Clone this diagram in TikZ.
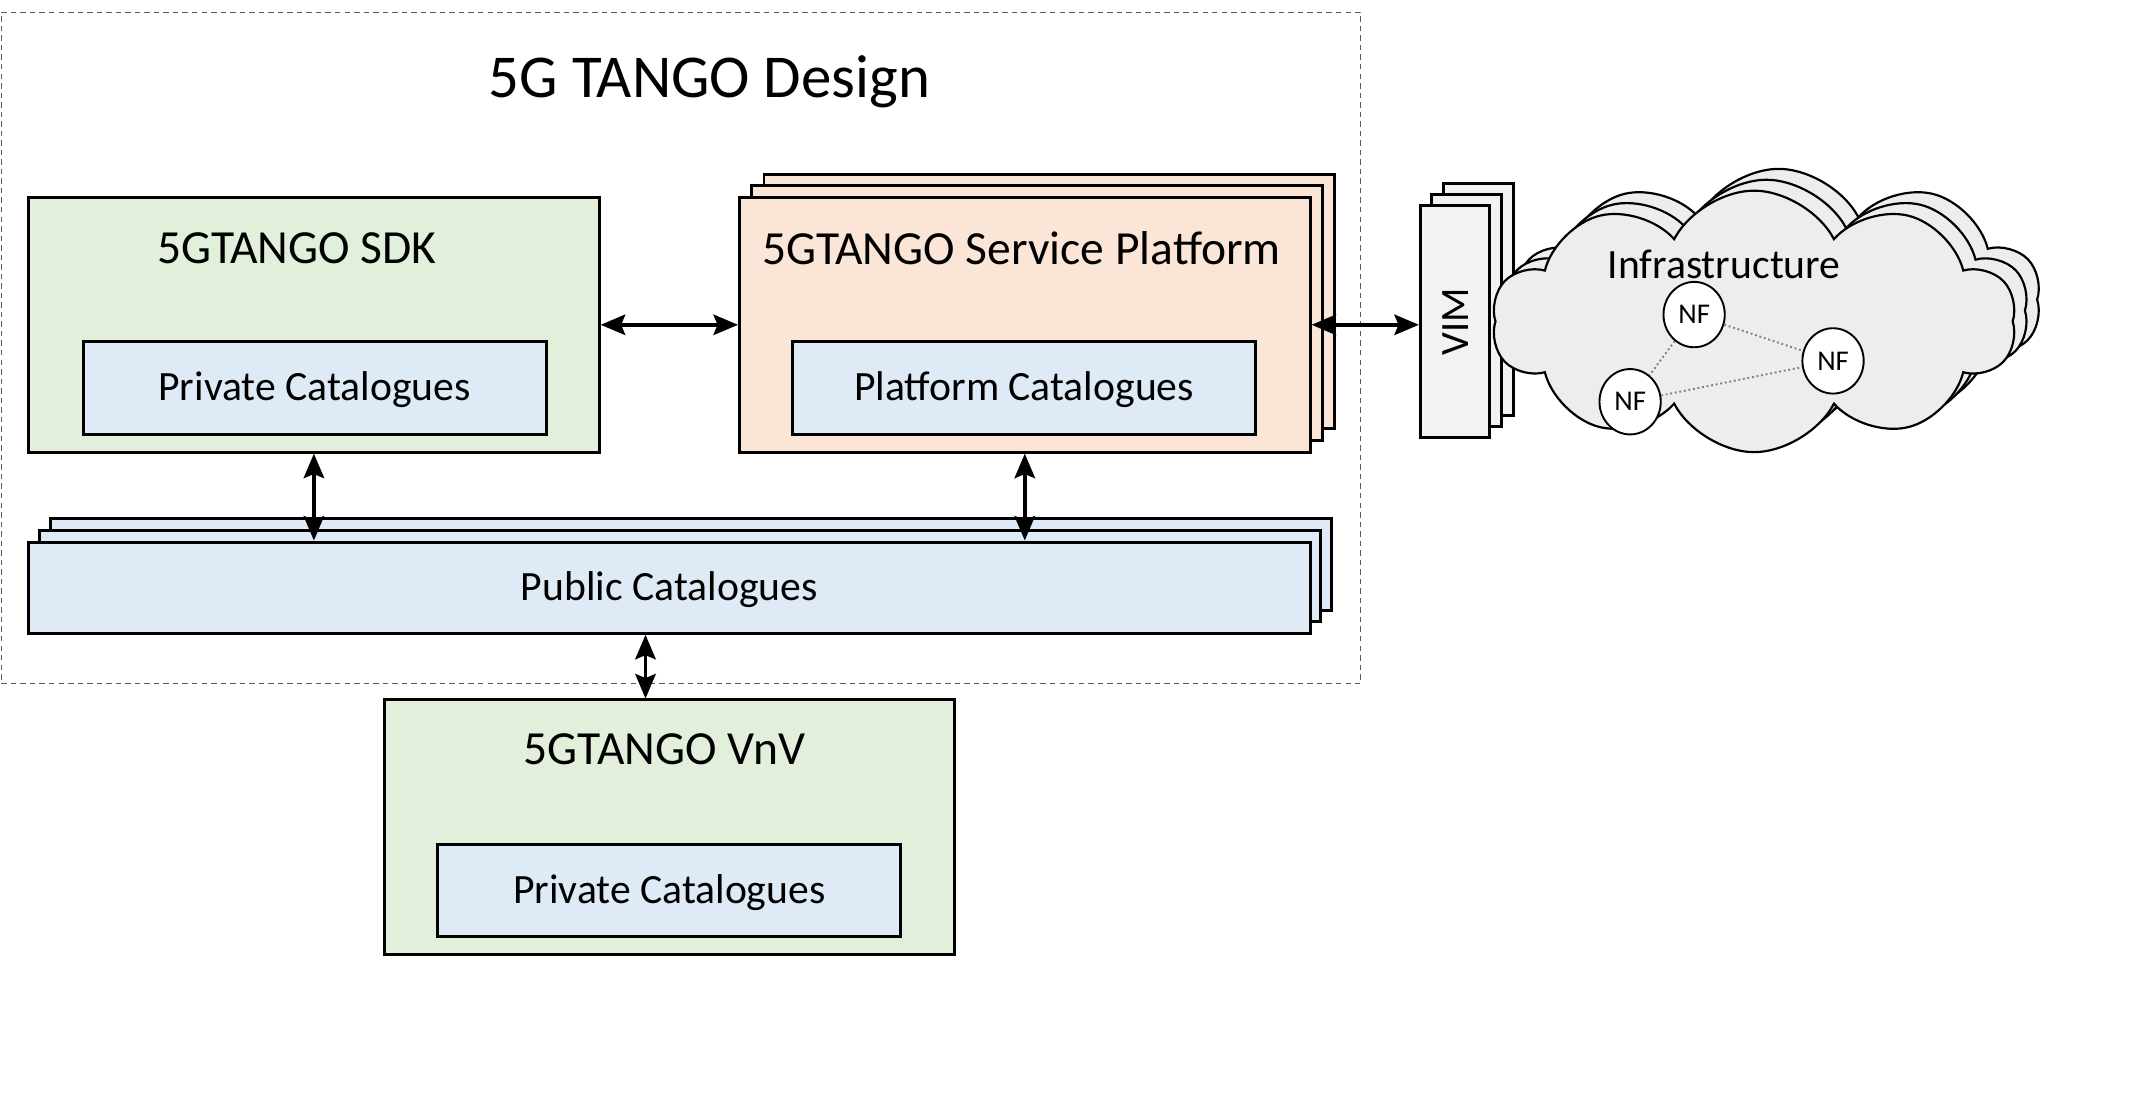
\documentclass[tikz,border=0pt]{standalone}
\usepackage{fontspec}
\setmainfont{Carlito}
\usetikzlibrary{arrows.meta,shapes.symbols,shapes.geometric}
\definecolor{cgreen}{HTML}{E2EFDA}
\definecolor{cpeach}{HTML}{FBE5D6}
\definecolor{cblue}{HTML}{DEEBF7}
\definecolor{cvim}{HTML}{F2F2F2}
\definecolor{ccloud}{HTML}{EDEDED}
\definecolor{cdash}{HTML}{595959}
\begin{document}
\begin{tikzpicture}[x=1pt,y=-1pt,
  box/.style={draw=black, line width=2.2pt, inner sep=0pt},
  bigbox/.style={box, minimum width=419pt, minimum height=187pt},
  catbox/.style={box, fill=cblue, minimum width=340pt, minimum height=68pt, text depth=2.5pt, font=\fontsize{30.6}{36}\selectfont},
  pubbox/.style={box, fill=cblue, minimum width=941pt, minimum height=67pt, text depth=2.5pt, font=\fontsize{30.6}{36}\selectfont},
  vimbox/.style={box, fill=cvim, minimum width=51pt, minimum height=170pt},
  cloudshape/.style={cloud, cloud puffs=10, cloud puff arc=125, aspect=2, draw=black, line width=1.6pt, fill=ccloud, minimum width=385pt, minimum height=192pt, inner sep=0pt},
  nfnode/.style={ellipse, draw=black, line width=1.4pt, fill=white, minimum width=45pt, minimum height=48pt, inner sep=0pt, font=\fontsize{21}{24}\selectfont},
  titletext/.style={inner sep=0pt, font=\fontsize{34.9}{40}\selectfont},
  arr/.style={line width=2.6pt, {Stealth[length=18pt,width=15pt,inset=3pt]}-{Stealth[length=18pt,width=15pt,inset=3pt]}},
  nflink/.style={draw=gray, line width=1.4pt, dotted}
]
\useasboundingbox (0,0) rectangle (1567,803.4);
% design frame
\node[draw=cdash, line width=1.1pt, dash pattern=on 4pt off 3pt, minimum width=998pt, minimum height=493pt, inner sep=0pt] (design) at (500,255.5) {};
\node[inner sep=0pt, font=\fontsize{44.7}{52}\selectfont] (designt) at (521,60) {5G TANGO Design};
% SDK
\node[bigbox, fill=cgreen] (sdk) at (230.5,238.5) {};
\node[titletext] (sdkt) at (218,182) {5GTANGO SDK};
\node[catbox] (sdkpc) at (231,285) {Private Catalogues};
% Service Platform stack
\node[bigbox, fill=cpeach] (spb2) at (770.5,221.5) {};
\node[bigbox, fill=cpeach] (spb1) at (761.5,230) {};
\node[bigbox, fill=cpeach] (sp) at (752.5,238.5) {};
\node[titletext] (spt) at (750,182) {5GTANGO Service Platform};
\node[catbox] (spc) at (752,285) {Platform Catalogues};
% Public catalogues stack
\node[pubbox] (pubb2) at (507.5,414.5) {};
\node[pubbox] (pubb1) at (499.5,423) {};
\node[pubbox] (pub) at (491.5,431.5) {Public Catalogues};
% VnV
\node[bigbox, fill=cgreen] (vnv) at (491.5,607.5) {};
\node[titletext] (vnvt) at (488,550) {5GTANGO VnV};
\node[catbox] (vnvpc) at (491.5,654) {Private Catalogues};
% VIM back copies
\node[vimbox] (vimb2) at (1085.5,220) {};
\node[vimbox] (vimb1) at (1077,228) {};
% clouds
\node[cloudshape] (cl2) at (1306,220) {};
\node[cloudshape] (cl1) at (1297,228) {};
\node[cloudshape] (cl) at (1288,236) {};
\node[inner sep=0pt, font=\fontsize{30.6}{36}\selectfont] (infra) at (1266,194) {Infrastructure};
% VIM front
\node[vimbox] (vim) at (1068.5,236) {};
\node[rotate=90, inner sep=0pt, font=\fontsize{29.5}{34}\selectfont] (vimt) at (1068.5,236) {VIM};
% NFs
\node[nfnode] (nf1) at (1244,231) {NF};
\node[nfnode] (nf2) at (1346,265) {NF};
\node[nfnode] (nf3) at (1197,295) {NF};
\draw[nflink] (nf1) -- (nf2);
\draw[nflink] (nf1) -- (nf3);
\draw[nflink] (nf3) -- (nf2);
% arrows
\draw[arr] (sdk.east) -- (sp.west);
\draw[arr] (sp.east) -- (sp.east -| vim.west);
\draw[arr] (sdk.south) -- (sdk.south |- pub.north);
\draw[arr] (sp.south) -- (sp.south |- pub.north);
\coordinate (pubv) at ([xshift=-17.5pt]pub.south);
\draw[arr] (pubv) -- (pubv |- vnv.north);
\end{tikzpicture}
\end{document}
